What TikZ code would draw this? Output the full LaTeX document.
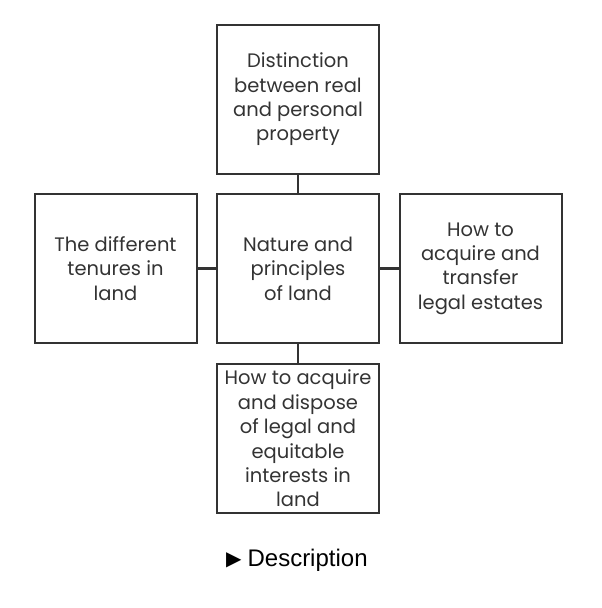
\documentclass[tikz,border=0pt]{standalone}
\usepackage{fontspec}
\setmainfont{Poppins}
\newfontfamily\descfont{Liberation Sans}
\newfontfamily\symfont{DejaVu Sans}
\definecolor{boxline}{HTML}{333333}
\definecolor{boxtext}{HTML}{333333}
\begin{document}
\begin{tikzpicture}[x=1pt,y=-1pt,
  topic/.style={draw=boxline, line width=2pt, minimum width=162pt, minimum height=149pt,
    inner sep=0pt, align=center, text=boxtext, font=\fontsize{19.5}{24.4}\selectfont},
  link/.style={draw=boxline, line width=2.2pt}]
\useasboundingbox (0,0) rectangle (602,608);
\node[topic] (top) at (298,99.5) {Distinction\\between real\\and personal\\property};
\node[topic] (mid) at (298,268.5) {Nature and\\principles\\of land};
\node[topic] (lft) at (115.5,268.5) {The different\\tenures in\\land};
\node[topic] (rgt) at (480.5,268.5) {How to\\acquire and\\transfer\\legal estates};
\node[topic] (bot) at (298,438.5) {How to acquire\\and dispose\\of legal and\\equitable\\interests in\\land};
\draw[link] (top) -- (mid);
\draw[link] (lft) -- (mid);
\draw[link] (mid) -- (rgt);
\draw[link] (mid) -- (bot);
\node[inner sep=0pt, anchor=west, font=\fontsize{24}{28}\descfont] (desc) at (226,560)
  {\raisebox{1pt}{\symfont\fontsize{20}{22}\selectfont ▶}\hspace{6pt}Description};
\end{tikzpicture}
\end{document}
